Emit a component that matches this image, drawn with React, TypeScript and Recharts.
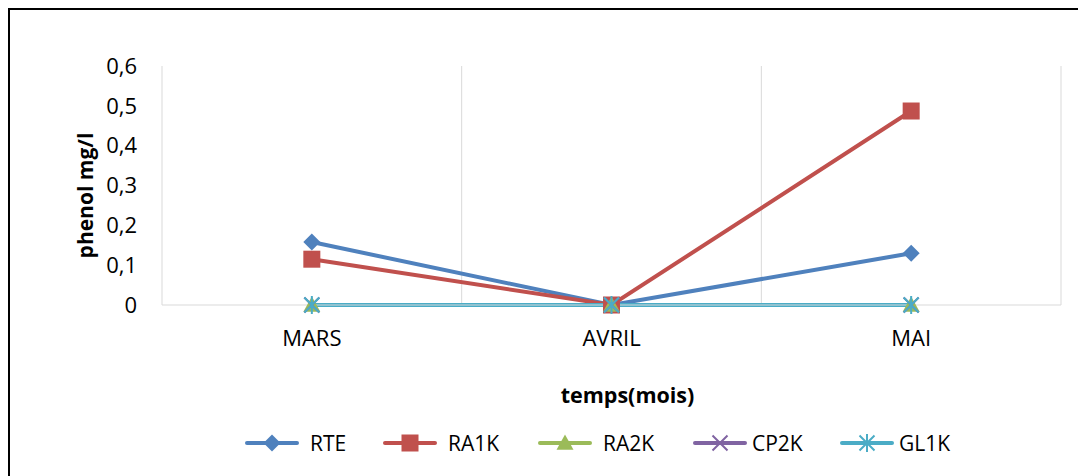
import { LineChart, Line, XAxis, YAxis, CartesianGrid, Legend, Label } from 'recharts';

const MONTHS = ['MARS', 'AVRIL', 'MAI'];
const RTE = [0.158, 0, 0.13];
const RA1K = [0.115, 0, 0.487];
const RA2K = [0, 0, 0];
const CP2K = [0, 0, 0];
const GL1K = [0, 0, 0];
const Y_TICKS = [0, 0.1, 0.2, 0.3, 0.4, 0.5, 0.6];

const SERIES = [
  { key: 'RTE', values: RTE, color: '#4F81BD', marker: 'diamond' },
  { key: 'RA1K', values: RA1K, color: '#C0504D', marker: 'square' },
  { key: 'RA2K', values: RA2K, color: '#9BBB59', marker: 'triangle' },
  { key: 'CP2K', values: CP2K, color: '#8064A2', marker: 'x' },
  { key: 'GL1K', values: GL1K, color: '#4BACC6', marker: 'star' },
];

const data = MONTHS.map((m, i) => {
  const row: any = { month: m };
  SERIES.forEach(s => { row[s.key] = s.values[i]; });
  return row;
});

const FONT = '"Open Sans", sans-serif';
const GRID = '#D9D9D9';

// legend item placement (Excel spacing is uneven)
const LEGEND_LEFT = [235, 373, 528, 683, 830];
const LEGEND_GAP = [11, 11, 11, 5, 5];

function Marker({ type, cx, cy, color }: { type: string; cx: number; cy: number; color: string }) {
  const r = 8.5;
  if (type === 'diamond')
    return <path d={`M${cx},${cy - r}L${cx + r},${cy}L${cx},${cy + r}L${cx - r},${cy}Z`} fill={color} />;
  if (type === 'square')
    return <rect x={cx - r} y={cy - r} width={r * 2} height={r * 2} fill={color} />;
  if (type === 'triangle')
    return <path d={`M${cx},${cy - r}L${cx + r},${cy + r * 0.8}L${cx - r},${cy + r * 0.8}Z`} fill={color} />;
  const d = 7.5;
  const cross = `M${cx - d},${cy - d}L${cx + d},${cy + d}M${cx - d},${cy + d}L${cx + d},${cy - d}`;
  if (type === 'x') return <path d={cross} stroke={color} strokeWidth={2} fill="none" />;
  return <path d={`${cross}M${cx},${cy - 9}L${cx},${cy + 9}`} stroke={color} strokeWidth={2} fill="none" />;
}

const makeDot = (type: string, color: string) => (p: any) => (
  <g key={`${type}-${p.index}`}>
    <Marker type={type} cx={p.cx} cy={p.cy} color={color} />
  </g>
);

function LegendContent() {
  return (
    <div style={{ position: 'relative', height: 24, fontFamily: FONT, fontSize: 21, color: '#000' }}>
      {SERIES.map((s, i) => (
        <div key={s.key} style={{ position: 'absolute', left: LEGEND_LEFT[i], top: 0, display: 'flex', alignItems: 'center', height: 24 }}>
          <svg width={54} height={22} style={{ display: 'block' }}>
            <line x1={2} y1={11} x2={52} y2={11} stroke={s.color} strokeWidth={4} strokeLinecap="round" />
            <Marker type={s.marker} cx={27} cy={11} color={s.color} />
          </svg>
          <span style={{ marginLeft: LEGEND_GAP[i], lineHeight: '24px' }}>{s.key}</span>
        </div>
      ))}
    </div>
  );
}

export default function App() {
  return (
    <div style={{ width: 1076, height: 466, borderLeft: '2px solid #000', borderTop: '2px solid #000', background: '#fff' }}>
      <LineChart width={1076} height={466} data={data} margin={{ top: 56, right: 25, bottom: 0, left: 0 }}>
        <CartesianGrid
          horizontal={false}
          stroke={GRID}
          verticalCoordinatesGenerator={({ offset }: any) => [1, 2, 3].map(k => offset.left + (offset.width * k) / 3)}
        />
        <XAxis
          dataKey="month"
          scale="band"
          height={171}
          axisLine={{ stroke: GRID }}
          tickLine={false}
          tickSize={0}
          tickMargin={25}
          tick={{ fill: '#000', fontSize: 22, fontFamily: FONT }}
        >
          <Label
            content={({ viewBox }: any) => (
              <text x={viewBox.x + viewBox.width / 2 + 16} y={viewBox.y + 98} textAnchor="middle"
                fontFamily={FONT} fontSize={21.5} fontWeight="bold" fill="#000">temps(mois)</text>
            )}
          />
        </XAxis>
        <YAxis
          width={152}
          domain={[0, 0.6]}
          ticks={Y_TICKS}
          interval={0}
          axisLine={{ stroke: GRID }}
          tickLine={false}
          tickSize={0}
          tickMargin={25}
          tickFormatter={(v: number) => String(Math.round(v * 10) / 10).replace('.', ',')}
          tick={{ fill: '#000', fontSize: 22, fontFamily: FONT }}
        >
          <Label
            content={({ viewBox }: any) => {
              const x = 75;
              const y = viewBox.y + viewBox.height / 2 + 10;
              return (
                <text x={x} y={y} transform={`rotate(-90, ${x}, ${y})`} textAnchor="middle" dominantBaseline="central"
                  fontFamily={FONT} fontSize={21} fontWeight="bold" fill="#000">phenol mg/l</text>
              );
            }}
          />
        </YAxis>
        <Legend
          layout="horizontal"
          verticalAlign="middle"
          align="center"
          content={<LegendContent />}
          wrapperStyle={{ top: 421, left: 0, width: 1076 }}
        />
        {SERIES.map(s => (
          <Line
            key={s.key}
            dataKey={s.key}
            type="linear"
            stroke={s.color}
            strokeWidth={4}
            dot={makeDot(s.marker, s.color)}
            activeDot={false}
            isAnimationActive={false}
          />
        ))}
      </LineChart>
    </div>
  );
}
